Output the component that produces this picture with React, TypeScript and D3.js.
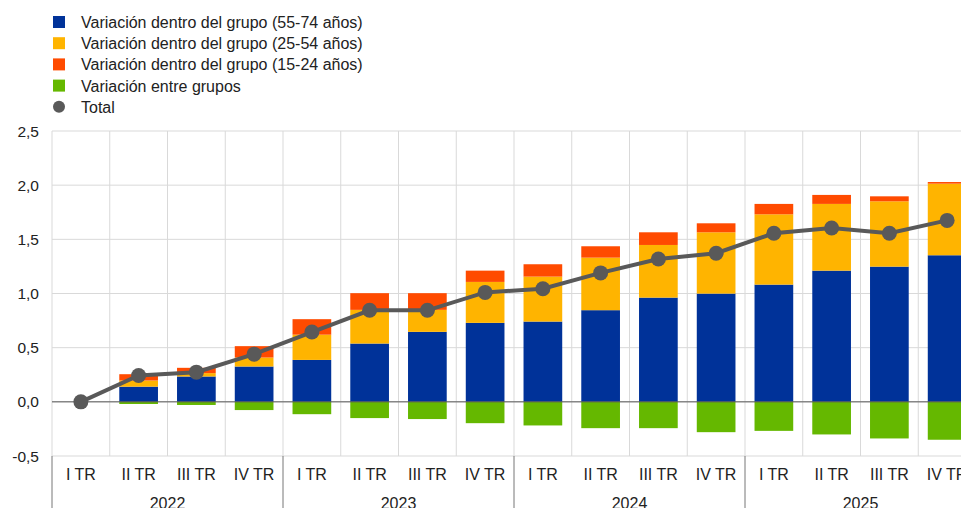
import React from "react";
import * as d3 from "d3";

const quarters = ["I TR", "II TR", "III TR", "IV TR"];
const years = ["2022", "2023", "2024", "2025"];
const categories = years.flatMap((y) => quarters.map((q) => `${q} ${y}`));

const within5574 = [0, 0.14, 0.234, 0.326, 0.387, 0.538, 0.646, 0.729, 0.741, 0.846, 0.962, 0.999, 1.082, 1.211, 1.248, 1.353];
const within2554 = [0, 0.057, 0.031, 0.083, 0.233, 0.311, 0.203, 0.378, 0.415, 0.485, 0.486, 0.566, 0.649, 0.616, 0.603, 0.661];
const within1524 = [0, 0.058, 0.049, 0.105, 0.143, 0.154, 0.154, 0.104, 0.114, 0.105, 0.117, 0.083, 0.096, 0.083, 0.046, 0.015];
const between = [0, -0.02, -0.029, -0.076, -0.114, -0.15, -0.159, -0.197, -0.218, -0.243, -0.243, -0.28, -0.268, -0.301, -0.338, -0.35];
const total = [0, 0.243, 0.274, 0.44, 0.644, 0.845, 0.845, 1.01, 1.044, 1.19, 1.318, 1.372, 1.556, 1.604, 1.556, 1.675];

const yTicks = [-0.5, 0, 0.5, 1, 1.5, 2, 2.5];

const seriesNames = [
  "Variación dentro del grupo (55-74 años)",
  "Variación dentro del grupo (25-54 años)",
  "Variación dentro del grupo (15-24 años)",
  "Variación entre grupos",
  "Total",
];
const colors = ["#003299", "#FFB400", "#FF4B00", "#65B800", "#595959"];

const W = 961;
const H = 508;
const left = 52;
const right = 976;
const top = 131;
const bottom = 456;
const font = "'Liberation Sans', Arial, sans-serif";

const fmt = (t: number) => (t < 0 ? "-" : "") + Math.abs(t).toFixed(1).replace(".", ",");

export default function App() {
  const x = d3.scaleBand<string>().domain(categories).range([left, right]).paddingInner(0.33).paddingOuter(0.165);
  const step = x.step();
  const y = d3.scaleLinear().domain([-0.5, 2.5]).range([bottom, top]);

  const posSeries = [within5574, within2554, within1524];
  const rects: JSX.Element[] = [];
  categories.forEach((c, i) => {
    let acc = 0;
    posSeries.forEach((s, k) => {
      const v = s[i];
      if (v > 0) {
        rects.push(
          <rect key={`p${k}-${i}`} x={x(c)} width={x.bandwidth()} y={y(acc + v)} height={y(acc) - y(acc + v)} fill={colors[k]} />
        );
        acc += v;
      }
    });
    const g = between[i];
    if (g < 0) {
      rects.push(<rect key={`g-${i}`} x={x(c)} width={x.bandwidth()} y={y(0)} height={y(g) - y(0)} fill={colors[3]} />);
    }
  });

  const line = d3
    .line<number>()
    .x((_, i) => (x(categories[i]) as number) + x.bandwidth() / 2)
    .y((d) => y(d));

  const boundaries = d3.range(categories.length + 1).map((i) => left + i * step);

  return (
    <svg width={W} height={H} style={{ position: "absolute", left: 0, top: 0 }} fontFamily={font}>
      <rect width={W} height={H} fill="#fff" />
      {/* legend */}
      {seriesNames.map((n, i) => (
        <g key={n} transform={`translate(0, ${22 + i * 21.2})`}>
          {i < 4 ? (
            <rect x={53} y={-6} width={12} height={12} fill={colors[i]} />
          ) : (
            <circle cx={59} cy={0} r={6} fill={colors[4]} />
          )}
          <text x={81} y={6} fontSize={16} fill="#222">
            {n}
          </text>
        </g>
      ))}
      {/* horizontal grid */}
      {yTicks.map((t) => (
        <line key={`h${t}`} x1={left} x2={right} y1={y(t)} y2={y(t)} stroke="#d9d9d9" strokeWidth={1} />
      ))}
      {/* vertical grid */}
      {boundaries.map((b, i) => (
        <line key={`v${i}`} x1={b} x2={b} y1={top} y2={bottom} stroke="#d9d9d9" strokeWidth={1} />
      ))}
      {/* y labels */}
      {yTicks.map((t) => (
        <text key={`yl${t}`} x={39} y={y(t) + 5.5} textAnchor="end" fontSize={15.5} fill="#222">
          {fmt(t)}
        </text>
      ))}
      {rects}
      <line x1={left} x2={right} y1={y(0)} y2={y(0)} stroke="#595959" strokeWidth={1} />
      <path d={line(total) || ""} fill="none" stroke={colors[4]} strokeWidth={4} />
      {total.map((v, i) => (
        <circle key={`c${i}`} cx={(x(categories[i]) as number) + x.bandwidth() / 2} cy={y(v)} r={7.5} fill={colors[4]} />
      ))}
      {/* x axis labels */}
      {categories.map((c, i) => (
        <text key={`xl${i}`} x={(x(c) as number) + x.bandwidth() / 2} y={480} textAnchor="middle" fontSize={16} fill="#222">
          {quarters[i % 4]}
        </text>
      ))}
      {years.map((yr, j) => (
        <g key={yr}>
          <line x1={boundaries[j * 4]} x2={boundaries[j * 4]} y1={bottom} y2={H} stroke="#777" strokeWidth={1} />
          <text x={(boundaries[j * 4] + boundaries[j * 4 + 4]) / 2} y={509} textAnchor="middle" fontSize={16} fill="#222">
            {yr}
          </text>
        </g>
      ))}
    </svg>
  );
}
